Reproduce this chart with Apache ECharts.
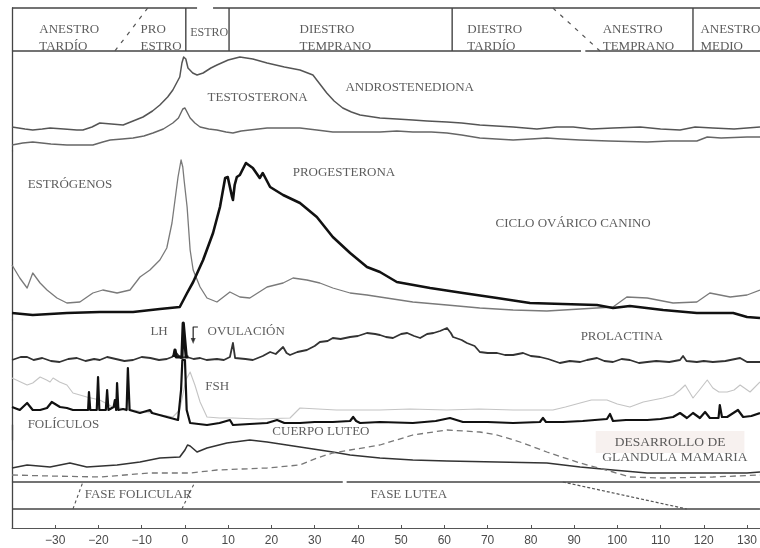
<!DOCTYPE html>
<html>
<head>
<meta charset="utf-8">
<script src="https://cdn.jsdelivr.net/npm/echarts@6/dist/echarts.min.js"></script>
<style>html,body{margin:0;padding:0;background:#fff}#c{width:760px;height:548px}</style>
</head>
<body>
<div id="c"></div>
<script>
// ---- x range (days relative to LH peak) and tick labels
const X_MIN = -40, X_MAX = 133, X_STEP = 10;

// ---- phase header (relative units, 0 = bottom of header band)
const headerPhases = [
  {name: 'ANESTRO\nTARDÍO', day: -33.8, val: 13},
  {name: 'PRO\nESTRO', day: -10.4, val: 13},
  {name: 'ESTRO', day: 1.1, val: 18, size: 12},
  {name: 'DIESTRO\nTEMPRANO', day: 26.4, val: 13},
  {name: 'DIESTRO\nTARDÍO', day: 65.2, val: 13},
  {name: 'ANESTRO\nTEMPRANO', day: 96.5, val: 13},
  {name: 'ANESTRO\nMEDIO', day: 119.1, val: 13}
];
const headerDividers = [0.2, 10.2, 61.8, 117.5];
const headerRules = [
  [[-40, 43], [2.8, 43]], [[6.5, 43], [133, 43]],
  [[-40, 0], [91.6, 0]], [[92.6, 0], [133, 0]]
];
const headerSlants = [[[-8.6, 43], [-16.2, 0]], [[85.1, 43], [96.0, 0]]];

// ---- androgens
const testosterone = [[-40,24],[-37,22],[-35.2,21],[-33,22],[-31.2,23],[-28,22],[-25,21],[-23.6,21],[-21.5,24],[-19.7,28],[-17,27],[-14.3,26],[-12,30],[-9.7,34],[-7.5,40],[-5.8,46],[-4,54],[-2.8,61],[-1.2,74],[-0.7,88],[-0.3,94],[0.2,92],[0.7,83],[1.8,78],[2.8,76],[4.2,78],[6,83],[7.4,86],[10,91],[12.7,94],[15.7,92],[19,88],[23,84],[26.6,81],[29.6,76],[31.2,67],[32.8,58],[34.5,50],[36.5,43],[38.5,39],[40.5,36],[45.1,33],[49,32],[52.7,31],[56,30],[60.6,29],[64,28],[68.2,26],[72,25],[75.9,24],[81.4,22],[86,24],[89.8,24],[94,22],[99,23],[105.3,24],[110,22],[114.5,21],[118,24],[122.1,23],[127,22],[133,24]];
const androstenedione = [[-40,6],[-37.5,8],[-35.2,9],[-31,7],[-27.3,6],[-24,6],[-21.3,6],[-19,9],[-17.3,11],[-14.5,12],[-12,13],[-9.5,15],[-7.4,18],[-5,22],[-2.8,28],[-1.5,33],[-0.5,42],[0,43],[0.6,38],[1.2,33],[2.3,28],[3.5,24],[5.5,22],[7.4,21],[9.5,19],[11.1,18],[13,20],[15,21],[19,23],[23,23],[26.6,23],[30.5,21],[34.2,19],[40,19],[45.1,19],[49,20],[52.7,19],[57,19],[60.6,18],[64,16],[68.2,13],[72,12],[75.9,11],[80,12],[83.7,13],[87,12],[91.4,11],[98,10],[106.9,9],[112,10],[118.4,10],[120.8,14],[124,13],[130,14],[133,14]];

// ---- estrogens / progesterone
const estrogens = [[-40,55],[-38.2,42],[-36.5,32],[-35.2,47],[-33.5,37],[-31.9,30],[-29.6,22],[-27.3,17],[-24.3,18],[-21.3,27],[-19,30],[-15.7,27],[-12.7,30],[-10.4,43],[-8.1,50],[-5.8,60],[-4.2,72],[-3,97],[-2.3,120],[-1.6,143],[-0.9,160],[-0.5,153],[-0.2,140],[0.5,113],[1.2,70],[1.9,50],[3.5,33],[5.1,22],[7.4,18],[10.4,28],[12.7,23],[15,22],[19,33],[22.7,37],[25,42],[28.2,40],[31.2,37],[34.2,32],[38.2,27],[42.1,25],[45.1,23],[52.7,18],[60.6,15],[68.2,12],[75.9,10],[83.7,9],[91.4,11],[99,13],[102.2,23],[106.9,22],[112.9,17],[118.4,18],[121.4,27],[126.1,23],[130,25],[133,30]];
const progesterone = [[-40,7],[-35.2,5],[-27.3,7],[-19.7,8],[-12,8],[-5.8,11],[-1.2,13],[0.5,27],[1.9,38],[4.2,60],[6.5,87],[8.1,113],[9.3,142],[9.9,143],[10.9,123],[11.1,120],[11.5,135],[12,143],[12.7,145],[14.1,157],[15.7,152],[17.3,142],[18,147],[19.7,133],[22.7,125],[26.6,117],[30.5,103],[34.2,83],[38.2,67],[42.1,53],[45.1,48],[49,38],[56.7,32],[64.3,27],[72.2,22],[79.8,17],[87.4,16],[95.3,15],[99,12],[102.9,14],[110.6,10],[118.4,7],[126.8,7],[130,3],[133,2]];

// ---- prolactin, LH, FSH, follicles
const prolactin = [[-40,80],[-38,83],[-36.5,83],[-35,80],[-33,82],[-31,79],[-29,78],[-27,81],[-25,82],[-23,79],[-21,81],[-19.7,80],[-18,83],[-16,81],[-14,79],[-12,80],[-10,83],[-8,82],[-6,80],[-4.2,81],[-3,83],[-2,87],[-1,82],[0.5,83],[2,81],[3.5,82],[5,80],[7.4,81],[9,80],[10.4,83],[11.1,97],[11.6,82],[12,80],[14,81],[15.7,80],[18,84],[19.7,88],[21,86],[22.7,93],[23.5,87],[24.3,85],[26,88],[28.2,90],[30,94],[31.2,98],[33,99],[34.2,102],[36,101],[38.2,103],[40,104],[42.1,107],[44,106],[45.1,105],[46.5,103],[48.1,102],[50,106],[51.4,107],[53,104],[54.4,102],[56,106],[57.5,107],[59,109],[60.6,112],[61.5,107],[62,103],[64,100],[65.2,97],[67,94],[68.2,88],[70,87],[72.2,87],[74,85],[75.9,85],[78.2,87],[80,84],[82.1,83],[84,81],[86.7,77],[89,79],[91.4,78],[93,80],[95.3,82],[97,79],[99,78],[101,81],[102.9,80],[105,77],[106.9,78],[109,79],[112,78],[114.5,80],[115.2,84],[116,79],[118.4,78],[120,79],[122.1,78],[125,79],[128.4,82],[130,78],[133,78]];
const lh = [[-2.6,83],[-2.3,90],[-2.0,83],[-0.7,83],[-0.4,117],[0,117],[0.3,83],[0.8,83]];
const fsh = [[-40,62],[-38,58],[-36.5,55],[-35.2,57],[-33.5,63],[-32,60],[-31.2,58],[-30.5,62],[-29,58],[-27.3,55],[-25.9,47],[-22.7,43],[-19.7,40],[-16.7,33],[-12,30],[-8.1,27],[-4,24],[-2.8,23],[-1.2,30],[0.2,60],[1.2,68],[2.3,55],[3.5,38],[5.1,23],[8,22],[11.1,22],[17,21],[24.3,22],[26.6,32],[35,30],[45.1,30],[52,31],[60.6,30],[68,31],[75.9,30],[85.1,30],[88,33],[91.4,37],[94,40],[97.6,40],[100,36],[102.9,33],[106,38],[110.6,42],[113,45],[114.5,50],[115.7,55],[117.5,42],[119,50],[120.8,60],[122.1,52],[123.5,48],[125.4,48],[127,50],[128.4,55],[130.7,48],[133,58]];
const follicles = [[-40,33],[-38.2,30],[-36.5,37],[-35.2,30],[-33.5,30],[-31.9,32],[-30.8,38],[-28.9,33],[-27.3,32],[-25.9,30],[-22.4,30],[-22.2,48],[-21.9,30],[-20.4,30],[-20.1,63],[-19.8,30],[-18.3,30],[-18.0,50],[-17.7,30],[-16.5,33],[-16.2,40],[-15.9,30],[-15.7,57],[-15.4,30],[-14.3,31],[-13.5,30],[-13.2,72],[-12.8,30],[-10.4,27],[-8.1,30],[-7.6,27],[-4.2,23],[-1.6,20],[-0.9,50],[-0.6,80],[0,80],[0.4,30],[1.2,17],[5.1,15],[8,17],[10.4,20],[11.1,15],[15,16],[19.0,17],[21.3,20],[23,17],[26.6,17],[30,18],[34.2,18],[38.2,19],[38.9,23],[39.6,19],[40.5,17],[45.1,18],[52.7,17],[58,19],[61.3,22],[64.3,18],[70,18],[75.9,17],[82.1,18],[82.8,22],[83.5,18],[87.4,18],[92,19],[97.6,21],[98.3,26],[99.0,19],[102,20],[106.9,20],[110,21],[112.9,23],[114.5,27],[116.1,22],[117.5,27],[119.1,22],[120.3,28],[121.4,22],[123.4,22],[123.7,35],[124.2,23],[125.4,23],[127.9,30],[129.1,23],[131,24],[133,27]];
const ovulationArrow = [[3.0,113],[1.9,113],[1.9,99]];

// ---- corpus luteum & mammary gland
const corpusLuteum = [[-40,14],[-36.5,17],[-31.2,15],[-26.6,19],[-22.7,15],[-15.7,17],[-10.4,20],[-5.8,24],[-1.2,25],[0,32],[0.6,37],[1.2,36],[2.8,30],[5.1,34],[9.7,39],[15,42],[19,40],[26.6,35],[34.2,30],[38.2,27],[45.1,24],[52.7,22],[60.6,21],[72.2,20],[83.7,19],[91.4,15],[99,12],[106.9,9],[114.5,9],[122.1,9],[130,9],[133,10]];
const mammary = [[-40,7],[-31.2,6],[-19.7,5],[-8.1,9],[1.2,9],[7.4,12],[19,14],[26.6,17],[30.5,24],[34.2,29],[38.2,32],[45.1,37],[52.7,47],[60.6,52],[68.2,50],[72.2,47],[77.5,40],[83.7,30],[91.4,19],[99,10],[102.9,5],[110.6,4],[122.1,5],[133,7]];

// ---- phase bar (follicular / luteal)
const phaseRules = [[[-40,46],[36.5,46]],[[37.4,46],[133,46]],[[-40,19],[133,19]]];
const phaseSlants = [[[-25.9,19],[-23.6,46]],[[-0.7,19],[2.3,46]]];
const lutealEnd = [[87.4,46],[116.1,19]];

// ---- panel labels
const labelsA = [{name:'TESTOSTERONA',day:5.1,val:53},{name:'ANDROSTENEDIONA',day:37.0,val:63}];
const labelsB = [{name:'ESTRÓGENOS',day:-36.5,val:135},{name:'PROGESTERONA',day:24.8,val:147},{name:'CICLO OVÁRICO CANINO',day:71.7,val:96}];
const labelsC = [{name:'LH',day:-8.1,val:108},{name:'OVULACIÓN',day:5.1,val:108},{name:'PROLACTINA',day:91.4,val:103},{name:'FSH',day:4.6,val:53},{name:'FOLÍCULOS',day:-36.5,val:15}];
const labelsD = [{name:'CUERPO LUTEO',day:20.1,val:50}];
const labelsE = [{name:'FASE FOLICULAR',day:-23.3,val:33},{name:'FASE LUTEA',day:42.8,val:33}];
const mammaryLabels = [{name:'DESARROLLO DE',day:112.2,val:40,bg:'#f5edeb'},{name:'GLANDULA MAMARIA',day:113.3,val:25}];

// ================= build option =================
const SERIF = '"Liberation Serif","DejaVu Serif",serif';
const TXT = '#333';
const bands = [
  {top: 8, height: 43},
  {top: 51, height: 100},
  {top: 151, height: 169},
  {top: 320, height: 120},
  {top: 425, height: 57},
  {top: 482, height: 46}
];
const grid = bands.map(b => ({left: 12, right: 0, top: b.top, height: b.height}));
const xAxis = bands.map((b, i) => ({
  gridIndex: i, type: 'value', min: X_MIN, max: X_MAX, interval: X_STEP,
  show: i === 5,
  axisLine: {onZero: false, lineStyle: {color: '#555', width: 1.2}},
  axisTick: {inside: true, length: 3, lineStyle: {color: '#555'}},
  axisLabel: {
    color: '#4a4a4a', fontSize: 12, fontFamily: '"Liberation Sans",Arial,sans-serif', margin: 7,
    showMinLabel: false, showMaxLabel: false,
    formatter: v => (v % 10 !== 0 || v <= X_MIN) ? '' : (v < 0 ? '\u2212' + (-v) : String(v))
  },
  splitLine: {show: false}
}));
const yAxis = bands.map((b, i) => ({
  gridIndex: i, type: 'value', min: 0, max: b.height, show: true,
  axisLine: {show: true, onZero: false, lineStyle: {color: '#444', width: 1.3}},
  axisTick: {show: false}, axisLabel: {show: false}, splitLine: {show: false}
}));

const series = [];
function line(gi, data, color, width, type, z) {
  series.push({
    type: 'line', xAxisIndex: gi, yAxisIndex: gi, data: data, symbol: 'none',
    silent: true, clip: false, z: z || 2,
    lineStyle: {color: color, width: width, type: type || 'solid', join: 'round'}
  });
}
function texts(gi, items, opts) {
  opts = opts || {};
  items.forEach(it => {
    series.push({
      type: 'scatter', xAxisIndex: gi, yAxisIndex: gi, symbolSize: 1, silent: true, z: 5,
      itemStyle: {color: 'rgba(0,0,0,0)'},
      data: [{name: it.name, value: [it.day, it.val]}],
      label: {
        show: true, formatter: '{b}', position: opts.center ? 'inside' : 'right', distance: 0,
        color: TXT, fontFamily: SERIF, fontSize: it.size || opts.size || 13,
        lineHeight: opts.lineHeight || 16, align: opts.center ? 'center' : 'left',
        backgroundColor: it.bg || 'transparent', padding: it.bg ? [3, 19] : 0
      }
    });
  });
}

// header frame
headerRules.forEach(s => line(0, s, '#444', 1.3));
headerDividers.forEach(d => line(0, [[d, 0], [d, 43]], '#444', 1.4));
headerSlants.forEach(s => line(0, s, '#555', 1.2, [4, 6]));
texts(0, headerPhases, {lineHeight: 17});

// androgens
line(1, testosterone, '#555', 1.5);
line(1, androstenedione, '#666', 1.4);
texts(1, labelsA);

// estrogen / progesterone
line(2, estrogens, '#7a7a7a', 1.3);
line(2, progesterone, '#111', 2.6, 'solid', 3);
texts(2, labelsB);

// prolactin, LH, FSH, follicles
line(3, fsh, '#c4c4c4', 1.1);
line(3, prolactin, '#333', 1.8);
line(3, lh, '#111', 3.2, 'solid', 3);
line(3, follicles, '#111', 2.2, 'solid', 3);
line(3, ovulationArrow, '#222', 1.2);
series.push({
  type: 'scatter', xAxisIndex: 3, yAxisIndex: 3, symbol: 'triangle', symbolSize: [5, 6],
  symbolRotate: 180, silent: true, itemStyle: {color: '#222'},
  data: [ovulationArrow[ovulationArrow.length - 1]]
});
texts(3, labelsC);

// corpus luteum / mammary gland
line(4, corpusLuteum, '#333', 1.6);
line(4, mammary, '#777', 1.3, [6, 4]);
texts(4, labelsD);
texts(4, mammaryLabels, {center: true, size: 13.5});

// phase bar
phaseRules.forEach(s => line(5, s, '#444', 1.3));
phaseSlants.forEach(s => line(5, s, '#555', 1.1, [3, 3]));
line(5, lutealEnd, '#555', 1.2, [3, 2]);
texts(5, labelsE);

const chart = echarts.init(document.getElementById('c'), null, {renderer: 'canvas'});
chart.setOption({animation: false, backgroundColor: '#fff', grid, xAxis, yAxis, series});
</script>
</body>
</html>
